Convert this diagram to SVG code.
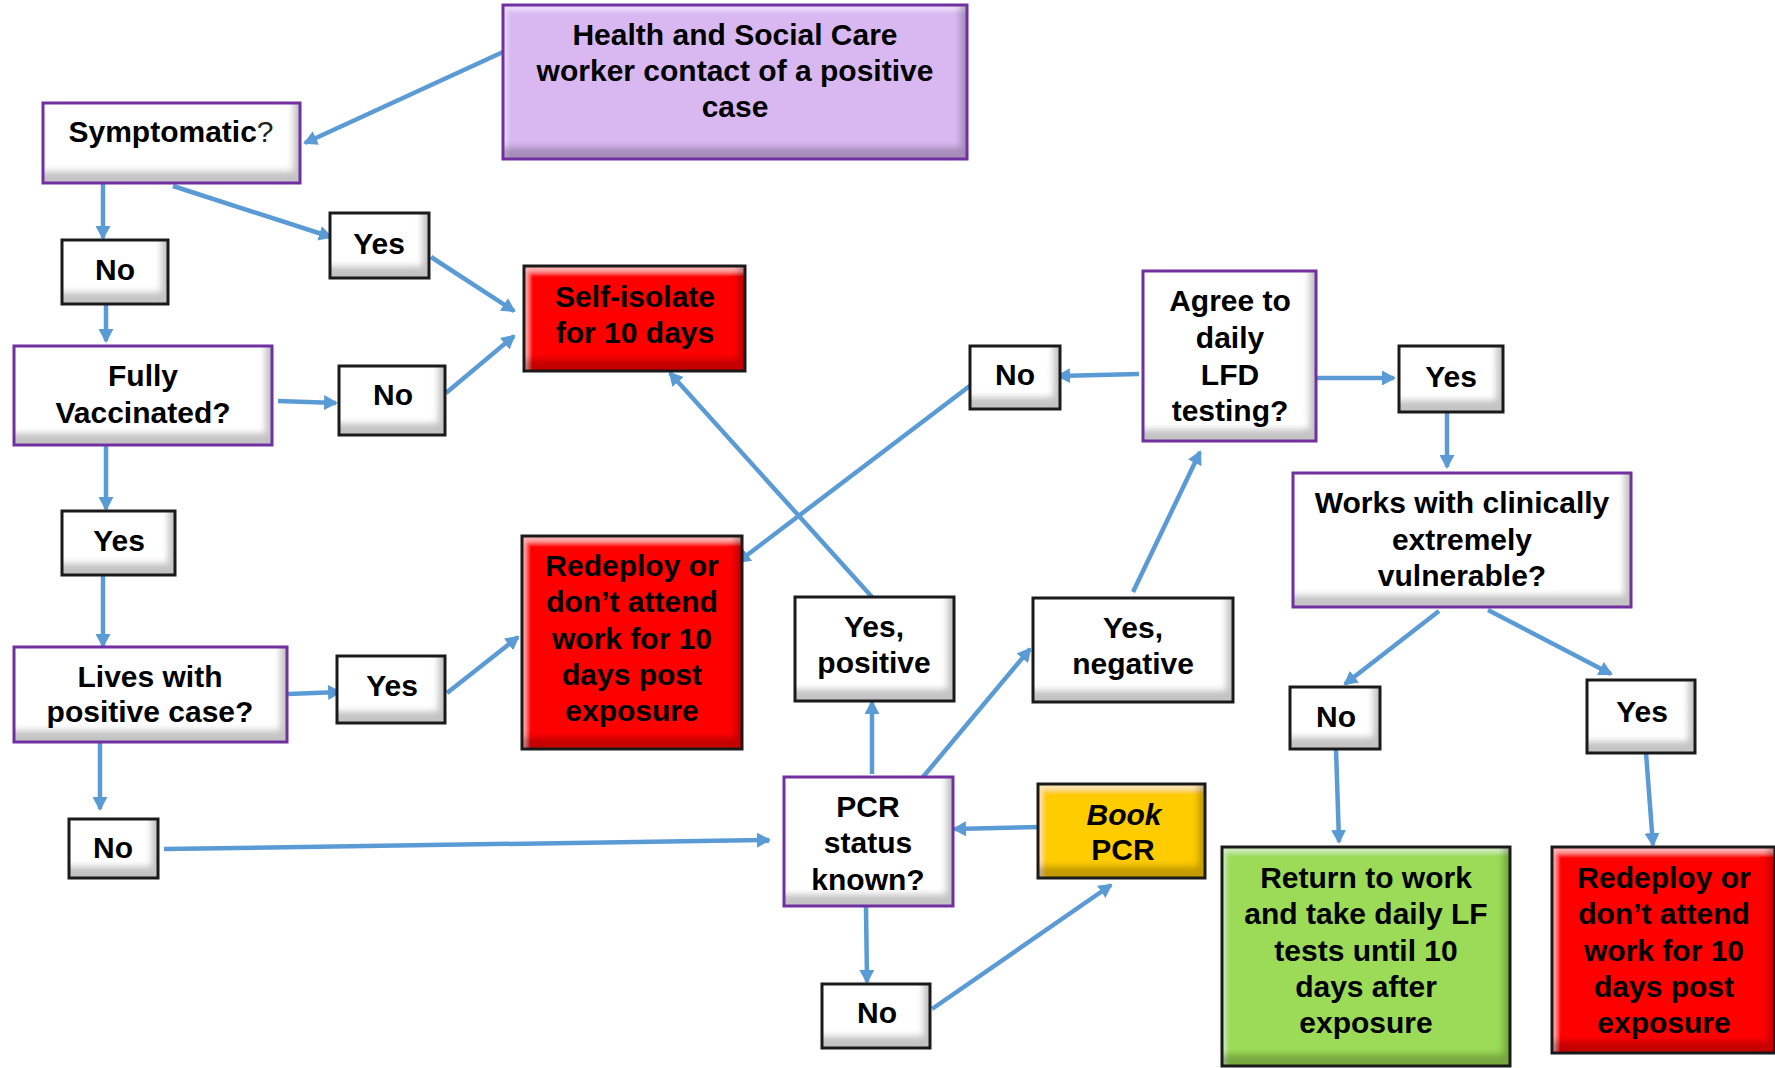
<svg xmlns="http://www.w3.org/2000/svg" width="1775" height="1068" viewBox="0 0 1775 1068">
<style>
.t{font-family:"Liberation Sans",Arial,sans-serif;font-weight:bold;font-size:30px;fill:#000;text-anchor:middle}
.q{font-weight:normal;fill:#222}
.it{font-style:italic}
.f-w{fill:#ffffff;filter:url(#bev)}
.f-red{fill:#ff0000;filter:url(#bev)}
.f-lav{fill:#d9b8f2;filter:url(#bev)}
.f-gold{fill:#ffcc00;filter:url(#bev)}
.f-green{fill:#9bdb58;filter:url(#bev)}
.b-k{fill:none;stroke:#1a1a1a;stroke-width:3}
.b-p{fill:none;stroke:#7030a0;stroke-width:3}
#connectors line{stroke:#5b9bd5;stroke-width:4.5;fill:none;marker-end:url(#ah)}
</style>
<defs>
<marker id="ah" markerUnits="userSpaceOnUse" markerWidth="14" markerHeight="15" viewBox="0 0 14 15" refX="12" refY="7.5" orient="auto">
<path d="M0,0 L14,7.5 L0,15 z" fill="#5b9bd5"/>
</marker>
<filter id="bev" x="-0.15" y="-0.25" width="1.3" height="1.5">
<feOffset in="SourceAlpha" dx="-7" dy="-12" result="off"/>
<feGaussianBlur in="off" stdDeviation="3" result="blur"/>
<feComposite in="SourceAlpha" in2="blur" operator="out" result="edge"/>
<feFlood flood-color="#000" flood-opacity="0.45"/>
<feComposite in2="edge" operator="in" result="shade"/>
<feOffset in="SourceAlpha" dx="4" dy="6" result="off2"/>
<feGaussianBlur in="off2" stdDeviation="2" result="blur2"/>
<feComposite in="SourceAlpha" in2="blur2" operator="out" result="edge2"/>
<feFlood flood-color="#fff" flood-opacity="0.45"/>
<feComposite in2="edge2" operator="in" result="hl"/>
<feMerge><feMergeNode in="SourceGraphic"/><feMergeNode in="hl"/><feMergeNode in="shade"/></feMerge>
</filter>
</defs>
<rect width="1775" height="1068" fill="#fff"/>

<g id="connectors">
<line x1="503" y1="52" x2="305" y2="143"/>
<line x1="103" y1="183" x2="103" y2="238"/>
<line x1="173" y1="186" x2="331" y2="237"/>
<line x1="431" y1="257" x2="514" y2="311"/>
<line x1="106" y1="304" x2="106" y2="341"/>
<line x1="278" y1="401" x2="336" y2="403"/>
<line x1="446" y1="393" x2="514" y2="336"/>
<line x1="106" y1="445" x2="106" y2="509"/>
<line x1="103" y1="576" x2="103" y2="646"/>
<line x1="288" y1="694" x2="340" y2="692"/>
<line x1="447" y1="693" x2="518" y2="637"/>
<line x1="100" y1="742" x2="100" y2="809"/>
<line x1="164" y1="849" x2="769" y2="840"/>
<line x1="872" y1="774" x2="872" y2="702"/>
<line x1="923" y1="777" x2="1030" y2="649"/>
<line x1="866" y1="907" x2="867" y2="982"/>
<line x1="932" y1="1009" x2="1111" y2="885"/>
<line x1="1040" y1="827" x2="954" y2="829"/>
<line x1="872" y1="597" x2="670" y2="373"/>
<line x1="971" y1="385" x2="738" y2="562"/>
<line x1="1139" y1="374" x2="1058" y2="376"/>
<line x1="1133" y1="592" x2="1200" y2="452"/>
<line x1="1316" y1="378" x2="1394" y2="378"/>
<line x1="1447" y1="412" x2="1447" y2="467"/>
<line x1="1439" y1="611" x2="1345" y2="684"/>
<line x1="1488" y1="610" x2="1611" y2="674"/>
<line x1="1336" y1="749" x2="1339" y2="842"/>
<line x1="1646" y1="753" x2="1653" y2="845"/>
</g>

<g id="n-health"><rect class="f-lav" x="503" y="5" width="464" height="154"/><rect class="b-p" x="503" y="5" width="464" height="154"/>
<text class="t" x="735" y="45">Health and Social Care</text><text class="t" x="735" y="81">worker contact of a positive</text><text class="t" x="735" y="117">case</text></g>

<g id="n-symptomatic"><rect class="f-w" x="43" y="103" width="257" height="80"/><rect class="b-p" x="43" y="103" width="257" height="80"/>
<text class="t" x="171" y="142">Symptomatic<tspan class="q">?</tspan></text></g>

<g id="n-yes1"><rect class="f-w" x="330" y="213" width="99" height="65"/><rect class="b-k" x="330" y="213" width="99" height="65"/>
<text class="t" x="379" y="254">Yes</text></g>

<g id="n-no1"><rect class="f-w" x="62" y="240" width="106" height="64"/><rect class="b-k" x="62" y="240" width="106" height="64"/>
<text class="t" x="115" y="280">No</text></g>

<g id="n-selfisolate"><rect class="f-red" x="524" y="266" width="221" height="105"/><rect class="b-k" x="524" y="266" width="221" height="105"/>
<text class="t" x="635" y="307">Self-isolate</text><text class="t" x="635" y="343">for 10 days</text></g>

<g id="n-fully"><rect class="f-w" x="14" y="346" width="258" height="99"/><rect class="b-p" x="14" y="346" width="258" height="99"/>
<text class="t" x="143" y="386">Fully</text><text class="t" x="143" y="423">Vaccinated?</text></g>

<g id="n-no2"><rect class="f-w" x="339" y="366" width="106" height="69"/><rect class="b-k" x="339" y="366" width="106" height="69"/>
<text class="t" x="393" y="405">No</text></g>

<g id="n-yes2"><rect class="f-w" x="62" y="511" width="113" height="64"/><rect class="b-k" x="62" y="511" width="113" height="64"/>
<text class="t" x="119" y="551">Yes</text></g>

<g id="n-lives"><rect class="f-w" x="14" y="647" width="273" height="95"/><rect class="b-p" x="14" y="647" width="273" height="95"/>
<text class="t" x="150" y="687">Lives with</text><text class="t" x="150" y="722">positive case?</text></g>

<g id="n-yes3"><rect class="f-w" x="337" y="656" width="108" height="67"/><rect class="b-k" x="337" y="656" width="108" height="67"/>
<text class="t" x="392" y="696">Yes</text></g>

<g id="n-redeploy1"><rect class="f-red" x="522" y="536" width="220" height="213"/><rect class="b-k" x="522" y="536" width="220" height="213"/>
<text class="t" x="632" y="576">Redeploy or</text><text class="t" x="632" y="612">don’t attend</text><text class="t" x="632" y="649">work for 10</text><text class="t" x="632" y="685">days post</text><text class="t" x="632" y="721">exposure</text></g>

<g id="n-yespositive"><rect class="f-w" x="795" y="597" width="159" height="104"/><rect class="b-k" x="795" y="597" width="159" height="104"/>
<text class="t" x="874" y="637">Yes,</text><text class="t" x="874" y="673">positive</text></g>

<g id="n-no3"><rect class="f-w" x="69" y="819" width="89" height="59"/><rect class="b-k" x="69" y="819" width="89" height="59"/>
<text class="t" x="113" y="858">No</text></g>

<g id="n-pcr"><rect class="f-w" x="784" y="777" width="169" height="129"/><rect class="b-p" x="784" y="777" width="169" height="129"/>
<text class="t" x="868" y="817">PCR</text><text class="t" x="868" y="853">status</text><text class="t" x="868" y="890">known?</text></g>

<g id="n-no4"><rect class="f-w" x="822" y="984" width="108" height="64"/><rect class="b-k" x="822" y="984" width="108" height="64"/>
<text class="t" x="877" y="1023">No</text></g>

<g id="n-book"><rect class="f-gold" x="1038" y="784" width="167" height="94"/><rect class="b-k" x="1038" y="784" width="167" height="94"/>
<text class="t it" x="1124" y="825">Book</text><text class="t" x="1123" y="860">PCR</text></g>

<g id="n-yesnegative"><rect class="f-w" x="1033" y="598" width="200" height="104"/><rect class="b-k" x="1033" y="598" width="200" height="104"/>
<text class="t" x="1133" y="638">Yes,</text><text class="t" x="1133" y="674">negative</text></g>

<g id="n-no5"><rect class="f-w" x="970" y="346" width="90" height="63"/><rect class="b-k" x="970" y="346" width="90" height="63"/>
<text class="t" x="1015" y="385">No</text></g>

<g id="n-agree"><rect class="f-w" x="1143" y="271" width="173" height="170"/><rect class="b-p" x="1143" y="271" width="173" height="170"/>
<text class="t" x="1230" y="311">Agree to</text><text class="t" x="1230" y="348">daily</text><text class="t" x="1230" y="385">LFD</text><text class="t" x="1230" y="421">testing?</text></g>

<g id="n-yes4"><rect class="f-w" x="1399" y="346" width="104" height="66"/><rect class="b-k" x="1399" y="346" width="104" height="66"/>
<text class="t" x="1451" y="387">Yes</text></g>

<g id="n-works"><rect class="f-w" x="1293" y="473" width="338" height="134"/><rect class="b-p" x="1293" y="473" width="338" height="134"/>
<text class="t" x="1462" y="513">Works with clinically</text><text class="t" x="1462" y="550">extremely</text><text class="t" x="1462" y="586">vulnerable?</text></g>

<g id="n-no6"><rect class="f-w" x="1290" y="687" width="90" height="62"/><rect class="b-k" x="1290" y="687" width="90" height="62"/>
<text class="t" x="1336" y="727">No</text></g>

<g id="n-yes5"><rect class="f-w" x="1587" y="680" width="108" height="73"/><rect class="b-k" x="1587" y="680" width="108" height="73"/>
<text class="t" x="1642" y="722">Yes</text></g>

<g id="n-return"><rect class="f-green" x="1222" y="847" width="288" height="219"/><rect class="b-k" x="1222" y="847" width="288" height="219"/>
<text class="t" x="1366" y="888">Return to work</text><text class="t" x="1366" y="924">and take daily LF</text><text class="t" x="1366" y="961">tests until 10</text><text class="t" x="1366" y="997">days after</text><text class="t" x="1366" y="1033">exposure</text></g>

<g id="n-redeploy2"><rect class="f-red" x="1552" y="847" width="223" height="206"/><rect class="b-k" x="1552" y="847" width="223" height="206"/>
<text class="t" x="1664" y="888">Redeploy or</text><text class="t" x="1664" y="924">don’t attend</text><text class="t" x="1664" y="961">work for 10</text><text class="t" x="1664" y="997">days post</text><text class="t" x="1664" y="1033">exposure</text></g>
</svg>
